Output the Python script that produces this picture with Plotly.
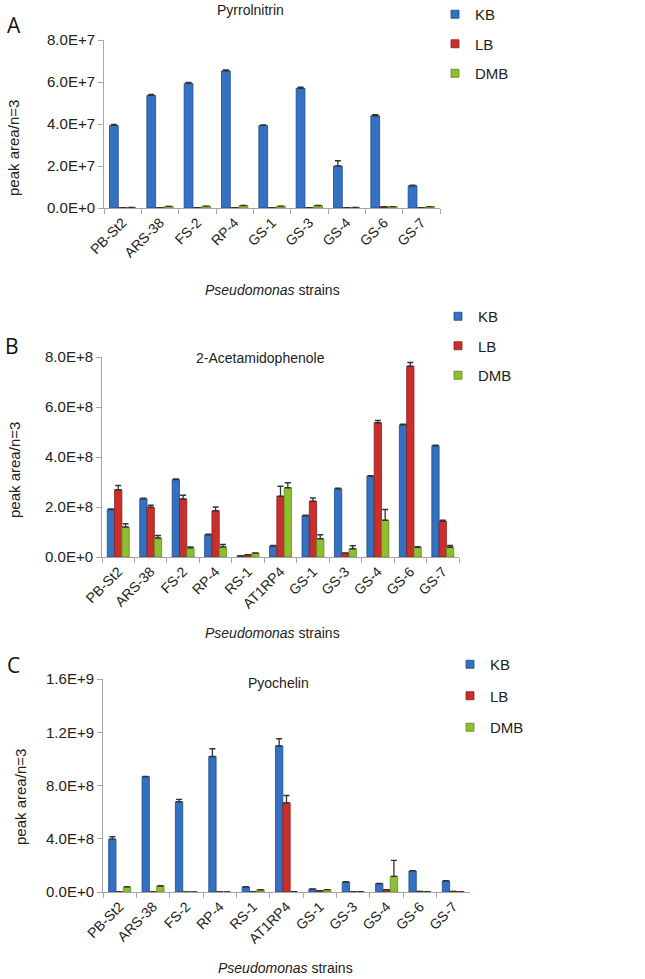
import plotly.graph_objects as go

# ---------------- data ----------------
strains_a = ["PB-St2", "ARS-38", "FS-2", "RP-4", "GS-1", "GS-3", "GS-4", "GS-6", "GS-7"]
a_kb = [3.93e7, 5.36e7, 5.93e7, 6.53e7, 3.93e7, 5.70e7, 2.00e7, 4.39e7, 1.06e7]
a_kb_err = [0.05e7, 0.05e7, 0.05e7, 0.05e7, 0.03e7, 0.05e7, 0.25e7, 0.05e7, 0.03e7]
a_lb = [0.02e7, 0.02e7, 0.02e7, 0.02e7, 0.02e7, 0.02e7, 0.02e7, 0.06e7, 0.02e7]
a_dmb = [0.03e7, 0.08e7, 0.09e7, 0.12e7, 0.09e7, 0.12e7, 0.03e7, 0.07e7, 0.07e7]

strains_bc = ["PB-St2", "ARS-38", "FS-2", "RP-4", "RS-1", "AT1RP4", "GS-1", "GS-3", "GS-4", "GS-6", "GS-7"]
b_kb = [1.90e8, 2.33e8, 3.10e8, 0.89e8, 0.05e8, 0.44e8, 1.65e8, 2.73e8, 3.23e8, 5.29e8, 4.45e8]
b_kb_err = [0.02e8, 0.02e8, 0.02e8, 0.02e8, 0.0, 0.02e8, 0.02e8, 0.02e8, 0.02e8, 0.02e8, 0.02e8]
b_lb = [2.69e8, 1.99e8, 2.32e8, 1.85e8, 0.09e8, 2.43e8, 2.23e8, 0.16e8, 5.37e8, 7.63e8, 1.43e8]
b_lb_err = [0.17e8, 0.08e8, 0.15e8, 0.15e8, 0.0, 0.40e8, 0.13e8, 0.0, 0.09e8, 0.15e8, 0.04e8]
b_dmb = [1.20e8, 0.76e8, 0.37e8, 0.40e8, 0.16e8, 2.77e8, 0.73e8, 0.33e8, 1.47e8, 0.39e8, 0.39e8]
b_dmb_err = [0.13e8, 0.10e8, 0.03e8, 0.10e8, 0.0, 0.20e8, 0.16e8, 0.12e8, 0.43e8, 0.02e8, 0.07e8]

c_kb = [3.97e8, 8.67e8, 6.78e8, 10.18e8, 0.38e8, 10.98e8, 0.23e8, 0.75e8, 0.63e8, 1.58e8, 0.83e8]
c_kb_err = [0.18e8, 0.02e8, 0.18e8, 0.58e8, 0.02e8, 0.53e8, 0.0, 0.02e8, 0.02e8, 0.03e8, 0.02e8]
c_lb = [0.01e8, 0.01e8, 0.01e8, 0.01e8, 0.02e8, 6.70e8, 0.10e8, 0.02e8, 0.18e8, 0.05e8, 0.05e8]
c_lb_err = [0, 0, 0, 0, 0, 0.55e8, 0, 0, 0, 0, 0]
c_dmb = [0.38e8, 0.45e8, 0.01e8, 0.01e8, 0.17e8, 0.03e8, 0.18e8, 0.02e8, 1.18e8, 0.03e8, 0.02e8]
c_dmb_err = [0.02e8, 0.02e8, 0, 0, 0, 0, 0, 0, 1.20e8, 0, 0]

a_tickvals = [0, 2e7, 4e7, 6e7, 8e7]
a_ticktext = ["0.0E+0", "2.0E+7", "4.0E+7", "6.0E+7", "8.0E+7"]
b_tickvals = [0, 2e8, 4e8, 6e8, 8e8]
b_ticktext = ["0.0E+0", "2.0E+8", "4.0E+8", "6.0E+8", "8.0E+8"]
c_tickvals = [0, 4e8, 8e8, 1.2e9, 1.6e9]
c_ticktext = ["0.0E+0", "4.0E+8", "8.0E+8", "1.2E+9", "1.6E+9"]

titles = ["Pyrrolnitrin", "2-Acetamidophenole", "Pyochelin"]
series_names = ["KB", "LB", "DMB"]

# ---------------- style ----------------
W, H = 645, 979
FONT = "Liberation Sans"
colors = {"KB": "#3471c2", "LB": "#c9302c", "DMB": "#8dbf2f"}
edges = {"KB": "#1d4a8a", "LB": "#8a1c1a", "DMB": "#5a8a1a"}


def px(x):
    return x / W


def py(y):
    return 1 - y / H


fig = go.Figure()

panels = [
    dict(x=strains_a, kb=(a_kb, a_kb_err), lb=(a_lb, [0] * 9), dmb=(a_dmb, [0] * 9),
         xa="x", ya="y", leg="legend", w=0.235),
    dict(x=strains_bc, kb=(b_kb, b_kb_err), lb=(b_lb, b_lb_err), dmb=(b_dmb, b_dmb_err),
         xa="x2", ya="y2", leg="legend2", w=0.225),
    dict(x=strains_bc, kb=(c_kb, c_kb_err), lb=(c_lb, c_lb_err), dmb=(c_dmb, c_dmb_err),
         xa="x3", ya="y3", leg="legend3", w=0.22),
]

for i, p in enumerate(panels):
    w = p["w"]
    for k, (key, name) in enumerate(zip(["kb", "lb", "dmb"], series_names)):
        vals, err = p[key]
        fig.add_trace(go.Bar(
            x=p["x"], y=vals, name=name,
            xaxis=p["xa"], yaxis=p["ya"], showlegend=False,
            width=w, offset=(k - 1.5) * w,
            marker=dict(color=colors[name], line=dict(color=edges[name], width=0.8)),
            error_y=dict(type="data", symmetric=False, array=err,
                         arrayminus=[0] * len(err), color="#333333",
                         thickness=1.3, width=3),
        ))
        # legend entry with small square symbol
        fig.add_trace(go.Scatter(
            x=[None], y=[None], name=name, mode="markers",
            xaxis=p["xa"], yaxis=p["ya"], legend=p["leg"],
            legendgroup=f"{i}{name}",
            marker=dict(symbol="square", size=8, color=colors[name],
                        line=dict(color=edges[name], width=0.8)),
        ))

axis_common_y = dict(showline=True, linecolor="#a6a6a6", linewidth=1, ticks="outside",
                     ticklen=5, tickcolor="#a6a6a6", showgrid=False, zeroline=False,
                     automargin=False,
                     tickfont=dict(family=FONT, size=15, color="#222"))
axis_common_x = dict(showline=True, linecolor="#a6a6a6", linewidth=1, ticks="outside",
                     ticklen=5, tickcolor="#a6a6a6", showgrid=False, tickson="boundaries",
                     automargin=False,
                     tickangle=-45, tickfont=dict(family=FONT, size=14, color="#222"))

fig.update_layout(
    width=W, height=H, margin=dict(l=0, r=0, t=0, b=0, autoexpand=False),
    paper_bgcolor="white", plot_bgcolor="white",
    barmode="overlay",
    font=dict(family=FONT, size=14, color="#222"),
    xaxis=dict(domain=[px(104), px(440)], anchor="y", range=[-0.5, 8.5], **axis_common_x),
    yaxis=dict(domain=[py(208), py(40)], anchor="x", range=[0, 8e7],
               tickvals=a_tickvals, ticktext=a_ticktext, **axis_common_y),
    xaxis2=dict(domain=[px(102), px(459)], anchor="y2", range=[-0.5, 10.5], **axis_common_x),
    yaxis2=dict(domain=[py(557), py(357)], anchor="x2", range=[0, 8e8],
                tickvals=b_tickvals, ticktext=b_ticktext, **axis_common_y),
    xaxis3=dict(domain=[px(103), px(470)], anchor="y3", range=[-0.5, 10.5], **axis_common_x),
    yaxis3=dict(domain=[py(892), py(679)], anchor="x3", range=[0, 1.6e9],
                tickvals=c_tickvals, ticktext=c_ticktext, **axis_common_y),
)

legend_common = dict(xanchor="left", yanchor="top", itemwidth=30,
                     font=dict(family=FONT, size=15, color="#222"),
                     bgcolor="rgba(0,0,0,0)", traceorder="grouped")
fig.update_layout(
    legend=dict(x=px(435), y=py(-2), tracegroupgap=7, **legend_common),
    legend2=dict(x=px(438), y=py(300), tracegroupgap=7, **legend_common),
    legend3=dict(x=px(450), y=py(648), tracegroupgap=9, **legend_common),
)

ann = []
# panel titles
for t, (x, y) in zip(titles, [(250, 10), (260, 358), (278, 683)]):
    ann.append(dict(text=t, x=px(x), y=py(y), xref="paper", yref="paper",
                    xanchor="center", yanchor="middle",
                    showarrow=False, font=dict(family=FONT, size=14, color="#222")))
# panel letters
for t, (x, y) in zip(["A", "B", "C"], [(14, 25), (12, 346), (13, 665)]):
    ann.append(dict(text=t, x=px(x), y=py(y), xref="paper", yref="paper",
                    xanchor="center", yanchor="middle",
                    showarrow=False, font=dict(family="Open Sans", size=21, color="#111")))
# x axis titles
for (x, y) in [(272, 290), (272, 633), (285, 968)]:
    ann.append(dict(text="<i>Pseudomonas</i> strains", x=px(x), y=py(y),
                    xref="paper", yref="paper", showarrow=False,
                    xanchor="center", yanchor="middle",
                    font=dict(family=FONT, size=14, color="#222")))
# y axis titles
for (x, y) in [(14, 148), (14, 470), (20, 797)]:
    ann.append(dict(text="peak area/n=3", x=px(x), y=py(y), xref="paper", yref="paper",
                    showarrow=False, textangle=-90, xanchor="center", yanchor="middle",
                    font=dict(family=FONT, size=15, color="#222")))
fig.update_layout(annotations=ann)

fig.write_html("out.html",
               config={"displayModeBar": False},
               post_script="document.body.style.margin='0px';document.body.style.overflow='hidden';")
